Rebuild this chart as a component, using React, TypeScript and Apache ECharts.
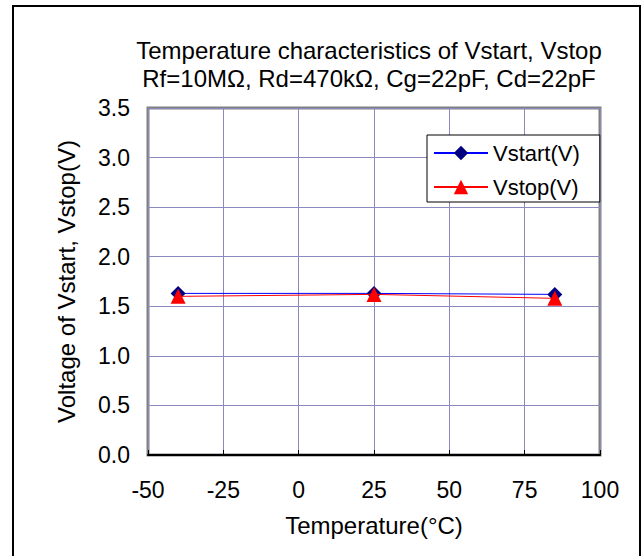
import React, { useEffect, useRef } from "react";
import * as echarts from "echarts";

const temperatures = [-40, 25, 85];
const vstart = [1.63, 1.63, 1.62];
const vstop = [1.6, 1.62, 1.58];
const titleLines = ["Temperature characteristics of Vstart, Vstop", "Rf=10MΩ, Rd=470kΩ, Cg=22pF, Cd=22pF"];
const seriesNames = ["Vstart(V)", "Vstop(V)"];
const xName = "Temperature(°C)";
const yName = "Voltage of Vstart, Vstop(V)";

const FONT = "'Liberation Sans', Arial, sans-serif";

export default function App() {
  const ref = useRef<HTMLDivElement>(null);
  useEffect(() => {
    if (!ref.current) return;
    const chart = echarts.init(ref.current, undefined, { renderer: "svg" });
    chart.setOption({
      animation: false,
      backgroundColor: "#ffffff",
      textStyle: { fontFamily: FONT },
      graphic: [
        {
          type: "rect",
          shape: { x: 13, y: 6, width: 627, height: 570 },
          style: { fill: "none", stroke: "#000", lineWidth: 2 },
          z: 0,
        },
        {
          type: "text",
          x: 369,
          y: 36,
          style: {
            text: titleLines.join("\n"),
            textAlign: "center",
            fontSize: 24,
            lineHeight: 28,
            fontFamily: FONT,
            fill: "#000",
          },
        },
      ],
      grid: {
        left: 148,
        right: 43,
        top: 108,
        bottom: 101,
        show: true,
        borderColor: "#808080",
        borderWidth: 3,
        backgroundColor: "#fff",
      },
      legend: {
        orient: "vertical",
        left: 427,
        top: 135,
        padding: [6, 20, 3, 6],
        itemGap: 10,
        itemWidth: 54,
        itemHeight: 18,
        backgroundColor: "#fff",
        borderColor: "#000",
        borderWidth: 1,
        borderRadius: 0,
        textStyle: { fontSize: 22, lineHeight: 24, color: "#000", fontFamily: FONT },
        data: seriesNames,
      },
      xAxis: {
        type: "value",
        min: -50,
        max: 100,
        interval: 25,
        name: xName,
        nameLocation: "middle",
        nameGap: 58,
        nameTextStyle: { fontSize: 24, color: "#000", fontFamily: FONT },
        axisLine: { show: true, onZero: false, lineStyle: { color: "#000", width: 2 } },
        axisTick: { show: true, inside: true, length: 5, lineStyle: { color: "#000" } },
        axisLabel: { fontSize: 23, color: "#000", margin: 23, fontFamily: FONT },
        splitLine: { show: true, lineStyle: { color: "#8a8abf", width: 1 } },
      },
      yAxis: {
        type: "value",
        min: 0,
        max: 3.5,
        interval: 0.5,
        name: yName,
        nameLocation: "middle",
        nameGap: 70,
        nameTextStyle: { fontSize: 24, color: "#000", fontFamily: FONT },
        axisLine: { show: false },
        axisTick: { show: false },
        axisLabel: {
          fontSize: 23,
          color: "#000",
          margin: 18,
          fontFamily: FONT,
          formatter: (v: number) => v.toFixed(1),
        },
        splitLine: { show: true, lineStyle: { color: "#8a8abf", width: 1 } },
      },
      series: [
        {
          name: seriesNames[0],
          type: "line",
          data: temperatures.map((t, i) => [t, vstart[i]]),
          symbol: "diamond",
          symbolSize: 15,
          lineStyle: { color: "#0000ff", width: 1 },
          itemStyle: { color: "#000080" },
          z: 3,
        },
        {
          name: seriesNames[1],
          type: "line",
          data: temperatures.map((t, i) => [t, vstop[i]]),
          symbol: "triangle",
          symbolSize: 15,
          lineStyle: { color: "#ff0000", width: 1 },
          itemStyle: { color: "#ff0000" },
          z: 4,
        },
      ],
    });
    return () => chart.dispose();
  }, []);
  return (
    <div
      ref={ref}
      style={{ position: "fixed", left: 0, top: 0, width: 643, height: 556 }}
    />
  );
}
